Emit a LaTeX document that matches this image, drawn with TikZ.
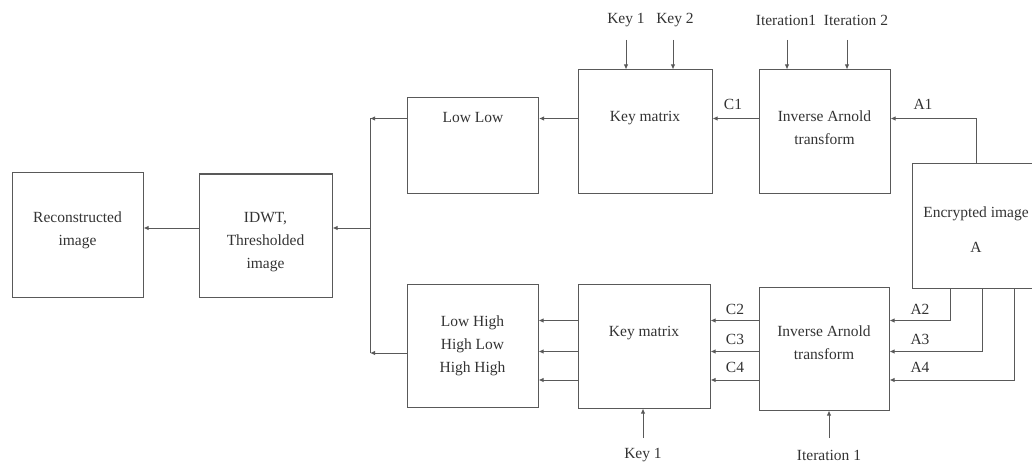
\documentclass[tikz,border=0pt]{standalone}
\usepackage{fontspec}
\setmainfont{Liberation Serif}
\usetikzlibrary{arrows.meta}

\tikzset{
  block/.style={draw=black!65, line width=1pt, inner sep=0pt},
  txt/.style={text=black!80, font=\fontsize{15.5}{23}\selectfont, align=center, inner sep=0pt},
  arr/.style={draw=black!65, line width=1pt, -{Latex[length=5pt,width=4.5pt]}},
  wire/.style={draw=black!65, line width=1pt}
}

\begin{document}
\begin{tikzpicture}[x=1pt,y=-1pt]
  \useasboundingbox (0,0) rectangle (1032,465);

  % blocks
  \node[block, minimum width=131pt, minimum height=124pt] (rec) at (77.5,235) {};
  \node[block, minimum width=133pt, minimum height=123pt] (idwt) at (265.5,235.5) {};
  \node[block, minimum width=131pt, minimum height=95pt] (ll) at (473,145.5) {};
  \node[block, minimum width=134pt, minimum height=123pt] (km1) at (645,131.5) {};
  \node[block, minimum width=131pt, minimum height=123pt] (ia1) at (824.5,131.5) {};
  \node[block, minimum width=131pt, minimum height=123pt] (lh) at (472.5,345.5) {};
  \node[block, minimum width=132pt, minimum height=124pt] (km2) at (644,346) {};
  \node[block, minimum width=130pt, minimum height=123pt] (ia2) at (824,348.5) {};
  \begin{scope}
    \clip (0,0) rectangle (1032,465);
    \node[block, minimum width=128pt, minimum height=124pt] (enc) at (976,226) {};
  \end{scope}

  % block texts
  \node[txt] (rect) at (77.5,230) {Reconstructed\\image};
  \node[txt] (idwtt) at (265.5,242) {IDWT,\\Thresholded\\image};
  \node[txt] (llt) at (473,118) {Low Low};
  \node[txt] (km1t) at (645,118) {Key matrix};
  \node[txt] (ia1t) at (824.5,127.5) {Inverse Arnold\\transform};
  \node[txt] (enct) at (976,229.5) {Encrypted image\\[12pt]A};
  \node[txt] (lht) at (472.5,346) {Low High\\High Low\\High High};
  \node[txt] (km2t) at (644,333) {Key matrix};
  \node[txt] (ia2t) at (824,342.5) {Inverse Arnold\\transform};

  % rows of the connectors
  \coordinate (r1) at (0,118.5);
  \coordinate (r2) at (0,320.5);
  \coordinate (r3) at (0,351.5);
  \coordinate (r4) at (0,380);
  \coordinate (busT) at (370,118.5);
  \coordinate (busB) at (370,353);
  \coordinate (busM) at (370,228);

  % top row
  \draw[arr] (ia1.west |- r1) -- (km1.east |- r1);
  \draw[arr] (km1.west |- r1) -- (ll.east |- r1);
  \draw[arr] (ll.west |- r1) -- (busT);
  \draw[arr] (enc.north) |- (ia1.east |- r1);

  % bottom row
  \foreach \r in {r2,r3,r4} {
    \draw[arr] (ia2.west |- \r) -- (km2.east |- \r);
    \draw[arr] (km2.west |- \r) -- (lh.east |- \r);
  }
  \draw[arr] (lh.west |- busB) -- (busB);
  \coordinate (a2) at (950,0);
  \coordinate (a3) at (982,0);
  \coordinate (a4) at (1014,0);
  \draw[arr] (enc.south -| a2) |- (ia2.east |- r2);
  \draw[arr] (enc.south -| a3) |- (ia2.east |- r3);
  \draw[arr] (enc.south -| a4) |- (ia2.east |- r4);

  % bus and output
  \draw[wire] (busT) -- (busB);
  \draw[arr] (busM) -- (idwt.east |- busM);
  \draw[arr] (idwt.west |- busM) -- (rec.east |- busM);

  % keys and iterations
  \node[txt] (k1) at (626,20) {Key 1};
  \node[txt] (k2) at (675,20) {Key 2};
  \node[txt] (it1) at (786,20) {Iteration1};
  \node[txt] (it2) at (856,20) {Iteration 2};
  \draw[arr] (626,40) -- (km1.north -| k1);
  \draw[arr] (673,40) -- (km1.north -| 673,0);
  \draw[arr] (787,40) -- (ia1.north -| 787,0);
  \draw[arr] (847,40) -- (ia1.north -| 847,0);
  \node[txt] (k1b) at (643,455) {Key 1};
  \node[txt] (it1b) at (829,455) {Iteration 1};
  \draw[arr] (643,438) -- (km2.south -| k1b);
  \draw[arr] (829,438) -- (ia2.south -| it1b);

  % connector labels
  \node[txt] (lc1) at (733,104) {C1};
  \node[txt] (la1) at (923,104) {A1};
  \node[txt] (lc2) at (735,309) {C2};
  \node[txt] (lc3) at (735,339) {C3};
  \node[txt] (lc4) at (735,367) {C4};
  \node[txt] (la2) at (920,309) {A2};
  \node[txt] (la3) at (920,339) {A3};
  \node[txt] (la4) at (920,367) {A4};
\end{tikzpicture}
\end{document}
